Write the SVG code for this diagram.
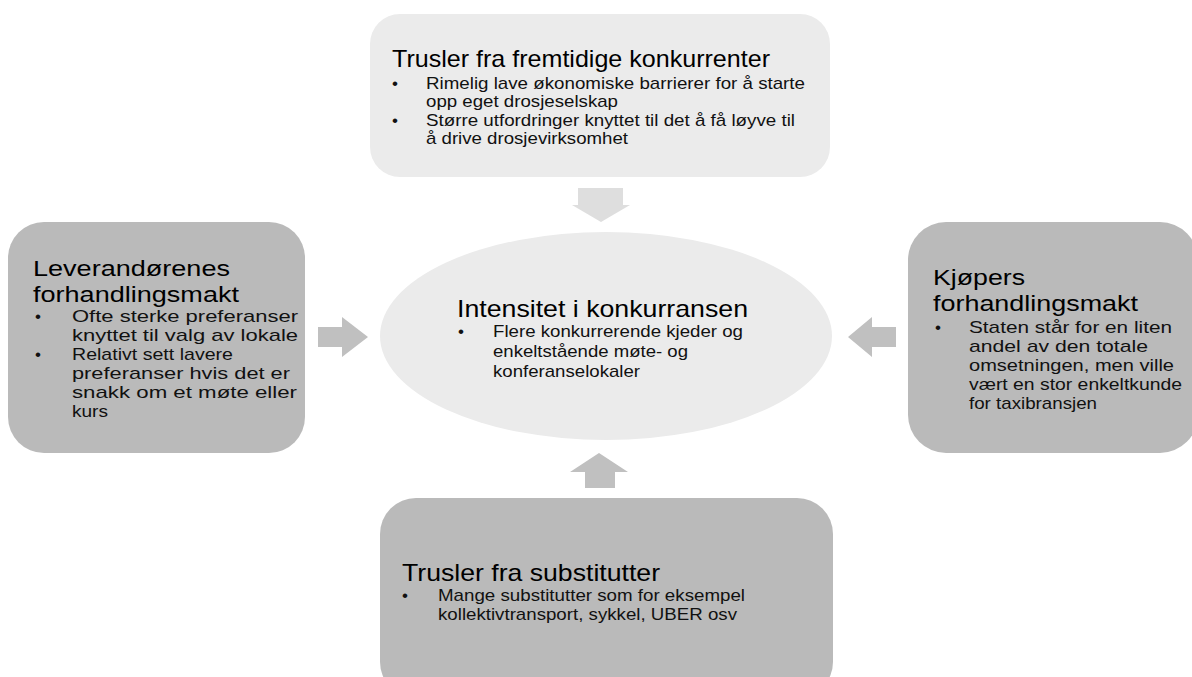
<svg xmlns="http://www.w3.org/2000/svg" width="1192" height="677" viewBox="0 0 1192 677">
  <style>
    text { font-family: "Liberation Sans", Arial, sans-serif; fill: #000; }
    .title { font-size: 24px; }
    .title-side { font-size: 22px; }
    .body { font-size: 17px; fill: #111; }
    .light { fill: #ebebeb; }
    .dark { fill: #bababa; }
    .arrow-light { fill: #dedede; }
    .arrow-dark { fill: #c0c0c0; }
  </style>
  <rect width="1192" height="677" fill="#ffffff"/>

  <!-- block arrows pointing at the centre ellipse -->
  <g id="connectors">
    <polygon class="arrow-light" points="578,188 623,188 623,205 630,205 601,222 572,205 578,205"/>
    <polygon class="arrow-dark" points="318,327 342,327 342,317 368,337 342,357 342,347 318,347"/>
    <polygon class="arrow-dark" points="896,327 872,327 872,317 848,337 872,357 872,347 896,347"/>
    <polygon class="arrow-dark" points="585,488 615,488 615,472 628,472 599,453 570,472 585,472"/>
  </g>

  <!-- new entrants -->
  <g id="node-top">
    <rect class="light" x="370" y="14" width="460" height="163" rx="30" ry="30"/>
    <text class="title" x="392" y="67" textLength="378" lengthAdjust="spacingAndGlyphs">Trusler fra fremtidige konkurrenter</text>
    <text class="body" x="392" y="89">•</text>
    <text class="body" x="426" y="89" textLength="379" lengthAdjust="spacingAndGlyphs">Rimelig lave økonomiske barrierer for å starte</text>
    <text class="body" x="426" y="107" textLength="192" lengthAdjust="spacingAndGlyphs">opp eget drosjeselskap</text>
    <text class="body" x="392" y="126">•</text>
    <text class="body" x="426" y="126" textLength="369" lengthAdjust="spacingAndGlyphs">Større utfordringer knyttet til det å få løyve til</text>
    <text class="body" x="426" y="144" textLength="202" lengthAdjust="spacingAndGlyphs">å drive drosjevirksomhet</text>
  </g>

  <!-- supplier power -->
  <g id="node-left">
    <rect class="dark" x="8" y="222" width="297" height="231" rx="36" ry="36"/>
    <text class="title-side" x="33" y="276" textLength="197" lengthAdjust="spacingAndGlyphs">Leverandørenes</text>
    <text class="title-side" x="33" y="302" textLength="206" lengthAdjust="spacingAndGlyphs">forhandlingsmakt</text>
    <text class="body" x="35" y="322">•</text>
    <text class="body" x="72" y="322" textLength="226" lengthAdjust="spacingAndGlyphs">Ofte sterke preferanser</text>
    <text class="body" x="72" y="341" textLength="226" lengthAdjust="spacingAndGlyphs">knyttet til valg av lokale</text>
    <text class="body" x="35" y="360">•</text>
    <text class="body" x="72" y="360" textLength="161" lengthAdjust="spacingAndGlyphs">Relativt sett lavere</text>
    <text class="body" x="72" y="379" textLength="218" lengthAdjust="spacingAndGlyphs">preferanser hvis det er</text>
    <text class="body" x="72" y="398" textLength="225" lengthAdjust="spacingAndGlyphs">snakk om et møte eller</text>
    <text class="body" x="72" y="417" textLength="36" lengthAdjust="spacingAndGlyphs">kurs</text>
  </g>

  <!-- buyer power -->
  <g id="node-right">
    <rect class="dark" x="908" y="222" width="290" height="231" rx="38" ry="38"/>
    <text class="title-side" x="933" y="285" textLength="92" lengthAdjust="spacingAndGlyphs">Kjøpers</text>
    <text class="title-side" x="933" y="311" textLength="205" lengthAdjust="spacingAndGlyphs">forhandlingsmakt</text>
    <text class="body" x="935" y="333">•</text>
    <text class="body" x="969" y="333" textLength="203" lengthAdjust="spacingAndGlyphs">Staten står for en liten</text>
    <text class="body" x="969" y="352" textLength="179" lengthAdjust="spacingAndGlyphs">andel av den totale</text>
    <text class="body" x="969" y="371" textLength="205" lengthAdjust="spacingAndGlyphs">omsetningen, men ville</text>
    <text class="body" x="969" y="390" textLength="213" lengthAdjust="spacingAndGlyphs">vært en stor enkeltkunde</text>
    <text class="body" x="969" y="409" textLength="128" lengthAdjust="spacingAndGlyphs">for taxibransjen</text>
  </g>

  <!-- rivalry -->
  <g id="node-center">
    <ellipse class="light" cx="606" cy="336" rx="226" ry="104"/>
    <text class="title" x="457" y="317" textLength="291" lengthAdjust="spacingAndGlyphs">Intensitet i konkurransen</text>
    <text class="body" x="458" y="337">•</text>
    <text class="body" x="493" y="337" textLength="250" lengthAdjust="spacingAndGlyphs">Flere konkurrerende kjeder og</text>
    <text class="body" x="493" y="357" textLength="195" lengthAdjust="spacingAndGlyphs">enkeltstående møte- og</text>
    <text class="body" x="493" y="377" textLength="147" lengthAdjust="spacingAndGlyphs">konferanselokaler</text>
  </g>

  <!-- substitutes -->
  <g id="node-bottom">
    <rect class="dark" x="380" y="498" width="453" height="200" rx="36" ry="36"/>
    <text class="title" x="402" y="581" textLength="258" lengthAdjust="spacingAndGlyphs">Trusler fra substitutter</text>
    <text class="body" x="402" y="601">•</text>
    <text class="body" x="438" y="601" textLength="307" lengthAdjust="spacingAndGlyphs">Mange substitutter som for eksempel</text>
    <text class="body" x="438" y="620" textLength="299" lengthAdjust="spacingAndGlyphs">kollektivtransport, sykkel, UBER osv</text>
  </g>
</svg>
